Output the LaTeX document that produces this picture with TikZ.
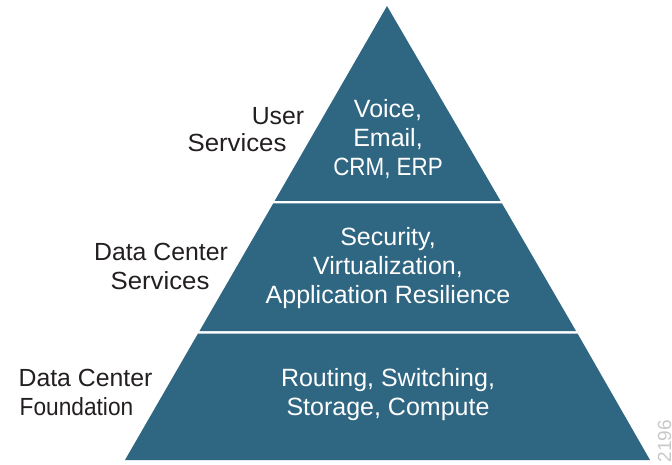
\documentclass[tikz,border=0pt]{standalone}
\usepackage{graphicx}
\usepackage{fontspec}
\setmainfont{Liberation Sans}
\definecolor{tier}{HTML}{2F6682}
\definecolor{lab}{HTML}{231F20}
\definecolor{idnum}{HTML}{C8C8C8}
\tikzset{
  band/.style={fill=tier,draw=none},
  intier/.style={text=white,font=\fontsize{25}{29}\selectfont,align=center,inner sep=0pt},
  outlabel/.style={text=lab,font=\fontsize{24.8}{29}\selectfont,align=center,inner sep=0pt},
  figid/.style={text=idnum,font=\fontsize{19}{19}\selectfont,rotate=90,inner sep=0pt}
}
\begin{document}
\begin{tikzpicture}[x=1pt,y=-1pt]
\useasboundingbox (0,0) rectangle (672,465);
\fill[band] (387,6) -- (500.6,201) -- (274.6,201) -- cycle;
\fill[band] (273.2,203.5) -- (502,203.5) -- (576,331) -- (199.5,331) -- cycle;
\fill[band] (198,333.5) -- (577.5,333.5) -- (650,460) -- (125,460) -- cycle;
\node[intier] (t1) at (388,139) {Voice,\\Email,\\\scalebox{0.895}[1]{CRM, ERP}};
\node[intier] (t2) at (388,268) {Security,\\Virtualization,\\Application Resilience};
\node[intier] (t3) at (388,395) {Routing, Switching,\\Storage, Compute};
\node[outlabel] (l1a) at (278,116) {User};
\node[outlabel] (l1b) at (237,143) {\scalebox{1.04}[1]{Services}};
\node[outlabel] (l2a) at (161,252) {Data Center};
\node[outlabel] (l2b) at (160,281) {\scalebox{1.04}[1]{Services}};
\node[outlabel] (l3a) at (85.5,378) {Data Center};
\node[outlabel] (l3b) at (76.5,407) {\scalebox{0.915}[1]{Foundation}};
\node[figid] (fid) at (664.5,441) {2196};
\end{tikzpicture}
\end{document}
